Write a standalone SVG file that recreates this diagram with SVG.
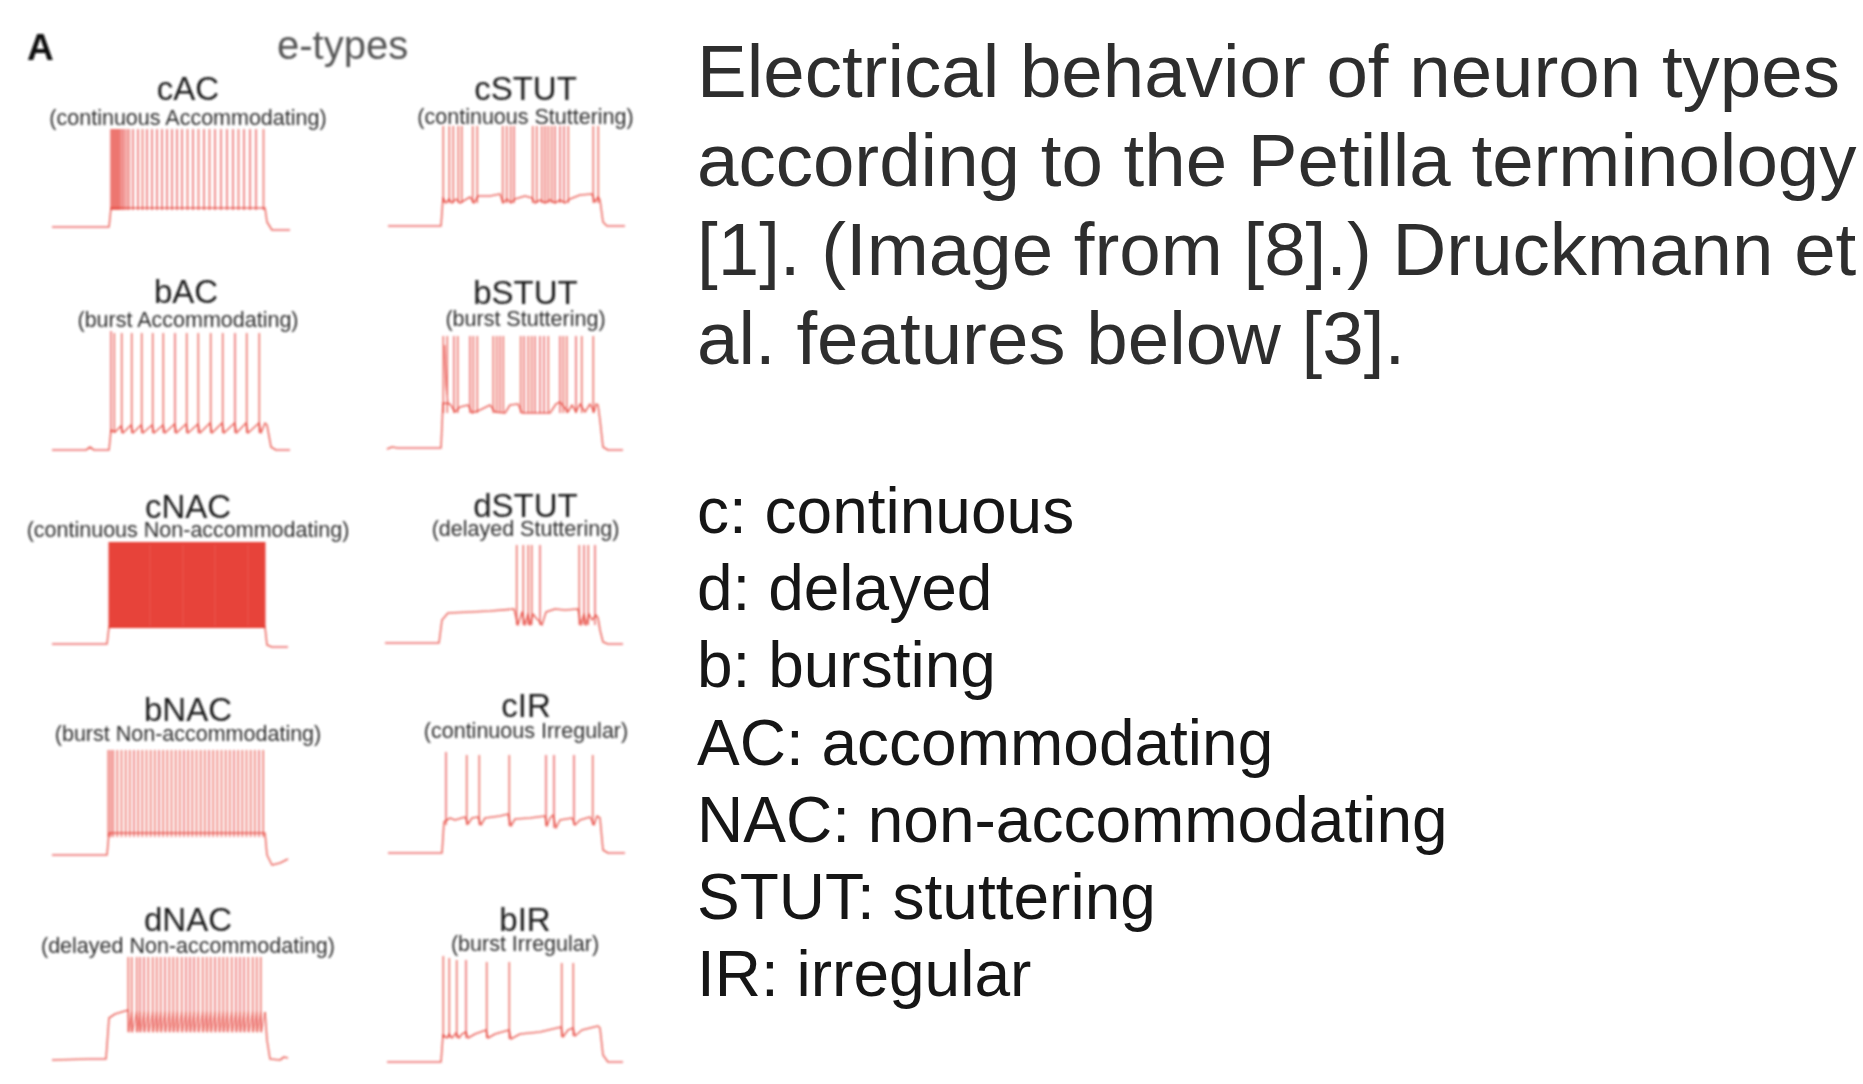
<svg xmlns="http://www.w3.org/2000/svg" width="1863" height="1084" viewBox="0 0 1863 1084">
  <style>
    .panel-letter { font-family: "Liberation Sans", Arial, sans-serif; font-weight: bold; font-size: 37px; fill: #111; }
    .header { font-family: "Liberation Sans", Arial, sans-serif; font-size: 40px; fill: #555; }
    .etitle { font-family: "Liberation Sans", Arial, sans-serif; font-size: 33px; fill: #1a1a1a; text-anchor: middle; }
    .esub { font-family: "Liberation Sans", Arial, sans-serif; font-size: 21.5px; fill: #2e2e2e; text-anchor: middle; }
    .trace { fill: none; stroke: #e63c33; stroke-width: 1.6; stroke-opacity: 0.75; stroke-linejoin: round; }
    .saw { fill: none; stroke: #e63c33; stroke-width: 1.3; stroke-opacity: 0.6; stroke-linejoin: round; }
    .spikes { fill: none; stroke: #e63c33; stroke-width: 1.6; stroke-opacity: 0.7; }
    .caption { font-family: "Liberation Sans", Arial, sans-serif; font-size: 74.5px; fill: #2e2e2e; }
    .legend { font-family: "Liberation Sans", Arial, sans-serif; font-size: 64px; fill: #161616; }
  </style>
  <defs>
    <filter id="soft" x="-5%" y="-5%" width="110%" height="110%">
      <feGaussianBlur stdDeviation="0.8"/>
    </filter>
  </defs>
  <rect width="1863" height="1084" fill="#ffffff"/>

  <!-- Left panel: firing patterns of the electrical types -->
  <g id="panel-a" filter="url(#soft)">
    <text class="panel-letter" x="27" y="60">A</text>
    <text class="header" x="277" y="59">e-types</text>

    <g id="cAC">
      <text class="etitle" x="188" y="100">cAC</text>
      <text class="esub" x="188" y="125">(continuous Accommodating)</text>
      <path class="trace" d="M52,227 H109 L111,208 H265 L267,222 L272,230 H290"/>
      <path class="spikes" d="M111,210V129 M112.5,210V129 M114,210V129 M115.5,210V129 M117,210V129 M118.5,210V129 M120,210V129 M122,210V129 M124,210V129 M126.5,210V129 M129,210V129 M133,210V129 M138,210V129 M142.5,210V129 M147,210V129 M152,210V129 M157,210V129 M162,210V129 M167,210V129 M172,210V129 M177,210V129 M182,210V129 M187.5,210V129 M193,210V129 M198.5,210V129 M204,210V129 M209.5,210V129 M215,210V129 M221,210V129 M227,210V129 M233,210V129 M238.5,210V129 M244,210V129 M250,210V129 M256,210V129 M263.5,210V129"/>
    </g>

    <g id="cSTUT">
      <text class="etitle" x="525.5" y="100">cSTUT</text>
      <text class="esub" x="525.5" y="124">(continuous Stuttering)</text>
      <path class="trace" d="M388,226 H441 L443,198 L446,203 L449,199 L452,203 L456,199 L460,203 L465,200 L470,197 L474,203 L478,196 L490,196 L500,194 L503,203 L507,199 L511,203 L515,199 L525,196 L532,198 L535,203 L540,200 L545,203 L550,200 L555,203 L560,200 L565,203 L570,199 L580,195 L592,194 L595,202 L598,197 L600,200 L603,222 L607,226 H625"/>
      <path class="spikes" d="M443.3,203V126 M449.3,203V126 M453.3,203V126 M458.3,203V126 M461.7,203V126 M472.7,203V126 M477.3,203V126 M502.7,203V126 M506.7,203V126 M510.7,203V126 M514,203V126 M532.7,203V126 M536.7,203V126 M541.7,203V126 M545,203V126 M548.3,203V126 M551.7,203V126 M555,203V126 M560,203V126 M564,203V126 M568.3,203V126 M593.3,203V126 M598.3,203V126"/>
    </g>

    <g id="bAC">
      <text class="etitle" x="186" y="303">bAC</text>
      <text class="esub" x="188" y="327">(burst Accommodating)</text>
      <path class="trace" d="M52,450 H86 L90,447 L94,450 H109 L111,430 L115,432 L121,426 L123,433 L131,425 L133,433 L141,425 L143,433 L152,425 L154,433 L163,425 L165,433 L174.5,424 L176.5,433 L186,424 L188,433 L198,424 L200,433 L210,423 L212,433 L222,423 L224,433 L234.5,423 L236.5,433 L246,423 L248,433 L259,423 L261,433 L265,423 L267,425 L271,447 L276,450 H290"/>
      <path class="spikes" d="M111,433V331 M114.3,433V333 M121.7,433V333 M131.7,433V333 M141.7,433V333 M152.7,433V333 M163.3,433V333 M175,433V333 M186.7,433V333 M198.3,433V333 M210.7,433V333 M222.7,433V333 M235,433V333 M246.7,433V333 M259.3,433V333"/>
    </g>

    <g id="bSTUT">
      <text class="etitle" x="525.5" y="304">bSTUT</text>
      <text class="esub" x="525.5" y="326">(burst Stuttering)</text>
      <path class="trace" d="M387,449 L392,447 L398,448 H441 L443,403 L450,404 L455,412 L460,407 L468,405 L472,413 L480,410 L490,405 L495,412 L505,413 L510,405 L518,404 L522,413 L550,413 L556,404 L560,402 L568,412 L572,405 L576,412 L580,404 L585,412 L590,404 L594,412 L596,404 L598,405 L600,420 L603,447 L608,450 H623"/>
      <path class="spikes" d="M443.3,413V336 M444.5,345 L446,385 L448,404 M447.3,413V336 M454,413V336 M457.7,413V336 M470,413V336 M473.3,413V336 M477.3,413V336 M493.3,413V336 M496.7,413V336 M500,413V336 M503.3,413V336 M520.7,413V336 M524,413V336 M528.3,413V336 M531.7,413V336 M535,413V336 M540,413V336 M544,413V336 M548.3,413V336 M560,413V336 M563.3,413V336 M566.7,413V336 M576,413V336 M581.7,413V336 M593.3,413V336"/>
    </g>

    <g id="cNAC">
      <text class="etitle" x="188" y="518">cNAC</text>
      <text class="esub" x="188" y="537">(continuous Non-accommodating)</text>
      <path class="trace" d="M52,644 H107 L109,627 H265 L267,645 L272,647 H288"/>
      <rect x="108.5" y="542" width="157" height="86" fill="#e63a30" fill-opacity="0.95"/>
      <path d="M150,545V626 M183,545V626 M215,545V626 M248,545V626" stroke="#ffffff" stroke-opacity="0.07" stroke-width="1.2" fill="none"/>
    </g>

    <g id="dSTUT">
      <text class="etitle" x="525.5" y="517">dSTUT</text>
      <text class="esub" x="525.5" y="536">(delayed Stuttering)</text>
      <path class="trace" d="M385,643 H439 L442,620 L448,613 L470,612 L490,611 L514,609 L518,625 L522,612 L525,625 L528,614 L530,625 L533,614 L536,618 L540,622 L542,625 L546,612 L555,609 L565,610 L578,609 L581,625 L584,614 L586,625 L589,614 L592,620 L596,615 L598,618 L600,630 L603,642 L608,644 H623"/>
      <path class="spikes" d="M516.7,625V545 M523.3,625V545 M528.3,625V545 M531.7,625V545 M540,625V545 M579.3,625V545 M584,625V545 M588.3,625V545 M595,625V545"/>
    </g>

    <g id="bNAC">
      <text class="etitle" x="188" y="721">bNAC</text>
      <text class="esub" x="188" y="741">(burst Non-accommodating)</text>
      <path class="trace" d="M52,855 H107 L109,833 H265 L267,855 L272,865 L280,863 L288,859"/>
      <path class="spikes" d="M108.3,837V750 M110.7,837V750 M113.3,837V750 M117.3,837V750 M121.5,837V750 M125.7,837V750 M129.8,837V750 M134,837V750 M138.2,837V750 M142.3,837V750 M146.5,837V750 M150.7,837V750 M154.8,837V750 M159,837V750 M163.2,837V750 M167.3,837V750 M171.5,837V750 M175.7,837V750 M179.8,837V750 M184,837V750 M188.2,837V750 M192.3,837V750 M196.5,837V750 M200.7,837V750 M204.8,837V750 M209,837V750 M213.2,837V750 M217.3,837V750 M221.5,837V750 M225.7,837V750 M229.8,837V750 M234,837V750 M238.2,837V750 M242.3,837V750 M246.5,837V750 M250.7,837V750 M254.8,837V750 M259,837V750 M263.2,837V750"/>
    </g>

    <g id="cIR">
      <text class="etitle" x="526" y="717">cIR</text>
      <text class="esub" x="526" y="738">(continuous Irregular)</text>
      <path class="trace" d="M388,853 H442 L444,822 L450,818 L455,820 L465,817 L468,824 L472,818 L478,817 L481,825 L485,818 L500,816 L508,814 L511,826 L515,819 L530,818 L545,816 L547,826 L550,818 L553,815 L556,828 L560,820 L572,818 L575,825 L580,820 L590,817 L594,825 L597,816 L600,818 L603,850 L608,853 H625"/>
      <path class="spikes" d="M446,825V752 M466.7,825V755 M479.3,825V755 M509.3,826V755 M546,826V755 M554,828V755 M574,825V755 M592.7,825V755"/>
    </g>

    <g id="dNAC">
      <text class="etitle" x="188" y="931">dNAC</text>
      <text class="esub" x="188" y="953">(delayed Non-accommodating)</text>
      <path class="trace" d="M52,1060 L90,1059 H106 L109,1018 L115,1014 L128.3,1010"/>
      <path class="saw" d="M128.3,1010 L129,1032 L131.7,1012 L132.4,1032 L136.7,1012 L137.4,1032 L140,1012 L140.7,1032 L144,1012 L144.7,1032 L148.3,1012 L149,1032 L152.7,1012 L153.4,1032 L156.7,1012 L157.4,1032 L160.7,1012 L161.4,1032 L165,1012 L165.7,1032 L169.3,1012 L170,1032 L173.3,1012 L174,1032 L177.3,1012 L178,1032 L181.7,1012 L182.4,1032 L186,1012 L186.7,1032 L190,1012 L190.7,1032 L194,1012 L194.7,1032 L198.3,1012 L199,1032 L202.7,1012 L203.4,1032 L206.7,1012 L207.4,1032 L210.7,1012 L211.4,1032 L215,1012 L215.7,1032 L219.3,1012 L220,1032 L223.3,1012 L224,1032 L227.3,1012 L228,1032 L231.7,1012 L232.4,1032 L236,1012 L236.7,1032 L240,1012 L240.7,1032 L244,1012 L244.7,1032 L248.3,1012 L249,1032 L252.7,1012 L253.4,1032 L256.7,1012 L257.4,1032 L260.7,1012 L261.4,1032 L265,1012"/>
      <path class="trace" d="M265,1012 L267,1040 L270,1059 L280,1060 L284,1057 L288,1058"/>
      <path class="spikes" d="M128.3,1032V957 M131.7,1032V957 M136.7,1032V957 M140,1032V957 M144,1032V957 M148.3,1032V957 M152.7,1032V957 M156.7,1032V957 M160.7,1032V957 M165,1032V957 M169.3,1032V957 M173.3,1032V957 M177.3,1032V957 M181.7,1032V957 M186,1032V957 M190,1032V957 M194,1032V957 M198.3,1032V957 M202.7,1032V957 M206.7,1032V957 M210.7,1032V957 M215,1032V957 M219.3,1032V957 M223.3,1032V957 M227.3,1032V957 M231.7,1032V957 M236,1032V957 M240,1032V957 M244,1032V957 M248.3,1032V957 M252.7,1032V957 M256.7,1032V957 M260.7,1032V957"/>
    </g>

    <g id="bIR">
      <text class="etitle" x="525" y="931">bIR</text>
      <text class="esub" x="525" y="951">(burst Irregular)</text>
      <path class="trace" d="M387,1062 H441 L443,1035 L447,1038 L449,1034 L452,1038 L456,1033 L459,1038 L462,1034 L466,1032 L468,1038 L475,1034 L486,1030 L488,1038 L495,1034 L509,1030 L511,1039 L520,1034 L540,1032 L561,1027 L563,1037 L568,1030 L573,1028 L575,1036 L582,1030 L598,1026 L600,1028 L603,1055 L608,1062 H623"/>
      <path class="spikes" d="M443.3,1038V956 M449.3,1038V958 M456.7,1038V960 M466,1038V960 M486.7,1038V962 M509.3,1039V962 M561.7,1037V963 M573.3,1036V963"/>
    </g>
  </g>

  <!-- Caption -->
  <g id="caption">
    <text class="caption" x="697" y="97">Electrical behavior of neuron types</text>
    <text class="caption" x="697" y="186">according to the Petilla terminology</text>
    <text class="caption" x="697" y="275">[1]. (Image from [8].) Druckmann et</text>
    <text class="caption" x="697" y="364">al. features below [3].</text>
  </g>

  <!-- Abbreviation legend -->
  <g id="legend">
    <text class="legend" x="697" y="533">c: continuous</text>
    <text class="legend" x="697" y="610">d: delayed</text>
    <text class="legend" x="697" y="687">b: bursting</text>
    <text class="legend" x="697" y="765">AC: accommodating</text>
    <text class="legend" x="697" y="842">NAC: non-accommodating</text>
    <text class="legend" x="697" y="919">STUT: stuttering</text>
    <text class="legend" x="697" y="996">IR: irregular</text>
  </g>
</svg>
